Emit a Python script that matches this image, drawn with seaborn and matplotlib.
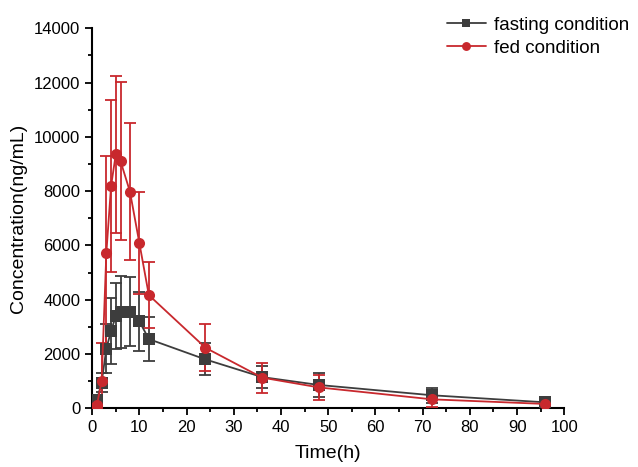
import pandas as pd
import seaborn as sns
import matplotlib.pyplot as plt

sns.set_style('ticks', {'axes.edgecolor': 'black', 'text.color': 'black',
                        'xtick.color': 'black', 'ytick.color': 'black',
                        'axes.labelcolor': 'black'})
plt.rcParams['font.family'] = ['Liberation Sans', 'DejaVu Sans']

# 데이터
time_h = [0.5, 1, 2, 3, 4, 5, 6, 8, 10, 12, 24, 36, 48, 72, 96]
fasting_mean = [250, 300, 950, 2200, 2850, 3400, 3550, 3550, 3200, 2550, 1800, 1150, 860, 480, 220]
fasting_sd = [100, 150, 350, 900, 1200, 1230, 1320, 1270, 1080, 800, 590, 420, 450, 280, 100]
fed_mean = [60, 120, 1000, 5730, 8190, 9360, 9110, 7980, 6080, 4170, 2230, 1130, 770, 330, 160]
fed_sd = [50, 100, 1400, 3560, 3160, 2900, 2910, 2520, 1880, 1230, 870, 550, 450, 290, 90]

black = '#3d3d3d'
red = '#c8282d'

df = pd.DataFrame({
    'time': time_h * 2,
    'conc': fasting_mean + fed_mean,
    'group': ['fasting condition'] * len(time_h) + ['fed condition'] * len(time_h),
})

fig = plt.figure(figsize=(6.38, 4.67), dpi=100)
ax = fig.add_axes([0.1445, 0.1257, 0.740, 0.8137])

# 오차 막대 (SD)
ax.errorbar(time_h, fasting_mean, yerr=fasting_sd, fmt='none', ecolor=black,
            elinewidth=1.3, capsize=4, capthick=1.3, zorder=2)
ax.errorbar(time_h, fed_mean, yerr=fed_sd, fmt='none', ecolor=red,
            elinewidth=1.3, capsize=4, capthick=1.3, zorder=3)

sns.lineplot(data=df, x='time', y='conc', hue='group', style='group',
             palette={'fasting condition': black, 'fed condition': red},
             markers={'fasting condition': 's', 'fed condition': 'o'},
             dashes=False, markersize=8, markeredgewidth=0, linewidth=1.3,
             ax=ax, zorder=4)

ax.set_xlim(0, 100)
ax.set_ylim(0, 14000)
ax.set_xticks(range(0, 101, 10))
ax.set_xticks(range(5, 100, 10), minor=True)
ax.set_yticks(range(0, 14001, 2000))
ax.set_yticks(range(1000, 14000, 2000), minor=True)
ax.tick_params(axis='both', which='major', direction='out', length=5, width=1.3, labelsize=12)
ax.tick_params(axis='both', which='minor', direction='out', length=3, width=1.3)
for s in ['left', 'bottom']:
    ax.spines[s].set_linewidth(1.5)
sns.despine(ax=ax)

ax.set_xlabel('Time(h)', fontsize=14, labelpad=7)
ax.set_ylabel('Concentration(ng/mL)', fontsize=14, labelpad=5)

ax.legend(loc='upper left', bbox_to_anchor=(0.735, 1.05), frameon=False,
          fontsize=13.5, handlelength=2.1, handletextpad=0.4, labelspacing=0.3,
          markerscale=0.8, borderaxespad=0)

plt.savefig('out.png', dpi=100)
plt.close()
